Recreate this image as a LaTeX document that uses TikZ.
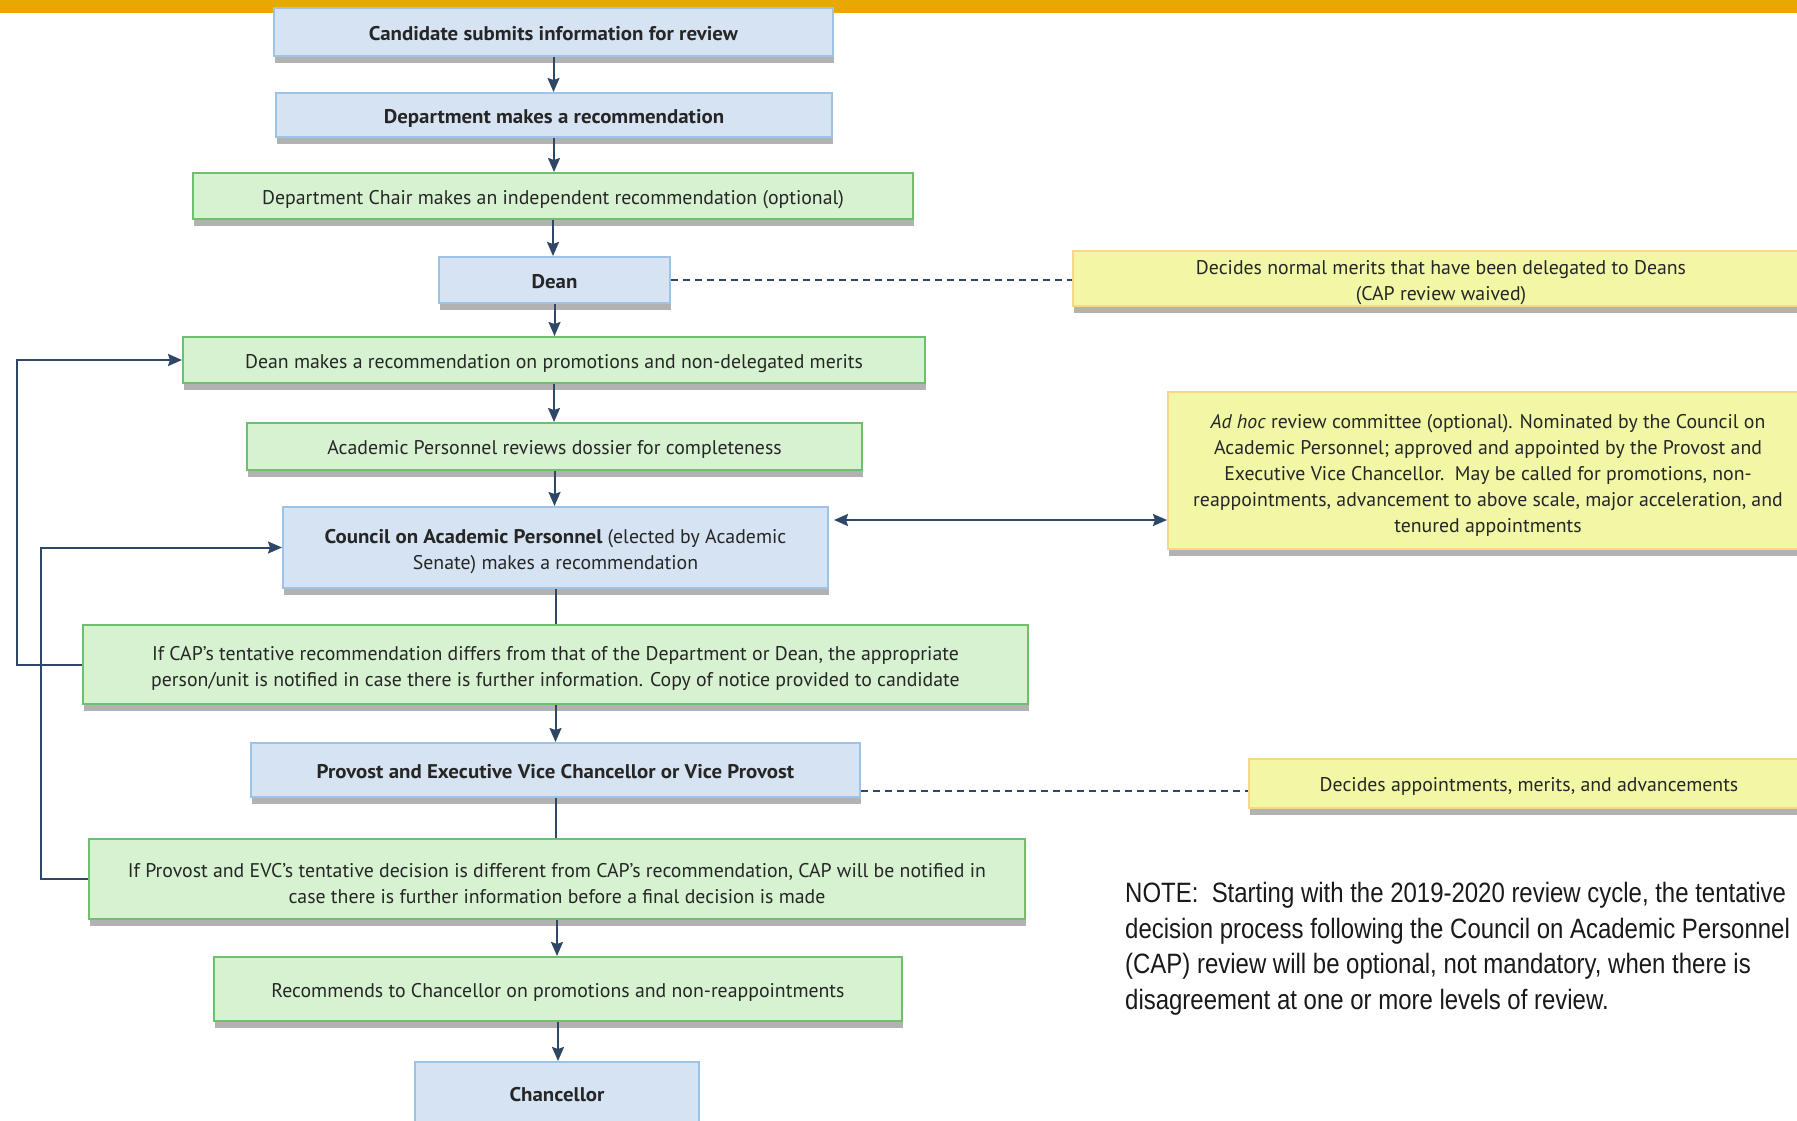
\documentclass[tikz,border=0pt]{standalone}
\usepackage{fontspec}
\setmainfont{PT Sans}[BoldFeatures={FakeStretch=1.055}]
\newfontfamily\notefont{Liberation Sans}[FakeStretch=0.856]
\usetikzlibrary{arrows.meta,shadows,calc}
\definecolor{bar}{HTML}{E8A800}
\definecolor{bfill}{HTML}{D5E3F2}
\definecolor{bdraw}{HTML}{9DC3E6}
\definecolor{gfill}{HTML}{D6F2D0}
\definecolor{gdraw}{HTML}{70BF6E}
\definecolor{yfill}{HTML}{F2F7A6}
\definecolor{ydraw}{HTML}{F8D888}
\definecolor{navy}{HTML}{2E4766}
\definecolor{txt}{HTML}{262626}
\newcommand\topfix{\rule{0pt}{23pt}}
\tikzset{
  box/.style={rectangle, inner sep=0pt, line width=2pt, align=center, text=txt,
    font=\fontsize{19.8}{26}\selectfont,
    drop shadow={shadow xshift=1pt, shadow yshift=-7pt, fill=black!60, opacity=0.5}},
  oneline/.style={text height=18.6pt, text depth=2pt},
  bluebox/.style={box, fill=bfill, draw=bdraw},
  greenbox/.style={box, fill=gfill, draw=gdraw},
  yellowbox/.style={box, fill=yfill, draw=ydraw},
  conn/.style={draw=navy, line width=2pt},
  arr/.style={conn, -{Stealth[length=14pt,width=12pt,inset=2pt]}},
  dbl/.style={conn, {Stealth[length=14pt,width=12pt,inset=2pt]}-{Stealth[length=14pt,width=12pt,inset=2pt]}},
  dashline/.style={draw=navy, line width=2pt, dash pattern=on 7pt off 5pt},
}
\begin{document}
\begin{tikzpicture}[x=1pt,y=-1pt]
\useasboundingbox (0,0) rectangle (1797,1121);
\clip (0,0) rectangle (1797,1121);
\fill[bar] (0,0) rectangle (1797,13);

\node[bluebox, oneline, minimum width=559, minimum height=48] (n1) at (553.5,32) {\textbf{Candidate submits information for review}};
\node[bluebox, oneline, minimum width=556, minimum height=44] (n2) at (554,115) {\textbf{Department makes a recommendation}};
\node[greenbox, oneline, minimum width=720, minimum height=46] (n3) at (553,196) {Department Chair makes an independent recommendation (optional)};
\node[bluebox, oneline, minimum width=231, minimum height=46] (n4) at (554.5,280) {\textbf{Dean}};
\node[greenbox, oneline, minimum width=742, minimum height=46] (n5) at (554,360) {Dean makes a recommendation on promotions and non-delegated merits};
\node[greenbox, oneline, minimum width=615, minimum height=47] (n6) at (554.5,446.5) {Academic Personnel reviews dossier for completeness};
\node[bluebox, minimum width=545, minimum height=81] (n7) at (555.5,547.5) {\topfix\textbf{Council on Academic Personnel} (elected by Academic\\Senate) makes a recommendation};
\node[greenbox, minimum width=945, minimum height=79] (n8) at (555.5,664.5) {\topfix If CAP’s tentative recommendation differs from that of the Department or Dean, the appropriate\\person/unit is notified in case there is further information. Copy of notice provided to candidate};
\node[bluebox, oneline, minimum width=609, minimum height=54] (n9) at (555.5,770) {\textbf{Provost and Executive Vice Chancellor or Vice Provost}};
\node[greenbox, minimum width=936, minimum height=80] (n10) at (557,879) {\topfix If Provost and EVC’s tentative decision is different from CAP’s recommendation, CAP will be notified in\\case there is further information before a final decision is made};
\node[greenbox, oneline, minimum width=688, minimum height=64] (n11) at (558,989) {Recommends to Chancellor on promotions and non-reappointments};
\node[bluebox, oneline, minimum width=284, minimum height=62] (n12) at (557,1093) {\textbf{Chancellor}};

\node[yellowbox, minimum width=736, minimum height=55] (y1) at (1441,278.5) {\topfix Decides normal merits that have been delegated to Deans\\(CAP review waived)};
\node[yellowbox, minimum width=640, minimum height=157] (y2) at (1488,470.5) {\topfix\textit{Ad hoc} review committee (optional). Nominated by the Council on\\Academic Personnel; approved and appointed by the Provost and\\Executive Vice Chancellor.\ \ May be called for promotions, non-\\reappointments, advancement to above scale, major acceleration, and\\tenured appointments};
\node[yellowbox, oneline, minimum width=560, minimum height=49] (y3) at (1529,783.5) {Decides appointments, merits, and advancements};

\node[anchor=north west, align=left, inner sep=0pt, text=black!90, font=\notefont\fontsize{28}{35.7}\selectfont] (note) at (1125,882) {NOTE:\ \ Starting with the 2019-2020 review cycle, the tentative\\decision process following the Council on Academic Personnel\\(CAP) review will be optional, not mandatory, when there is\\disagreement at one or more levels of review.};

% vertical connectors
\draw[arr] (n1.south) -- (n1.south |- n2.north);
\draw[arr] (n2.south) -- (n2.south |- n3.north);
\draw[arr] (n3.south) -- (n3.south |- n4.north);
\draw[arr] (n4.south) -- (n4.south |- n5.north);
\draw[arr] (n5.south) -- (n5.south |- n6.north);
\draw[arr] (n6.south) -- (n6.south |- n7.north);
\draw[conn] (n7.south) -- (n7.south |- n8.north);
\draw[arr] (n8.south) -- (n8.south |- n9.north);
\draw[conn] (n9.south) -- (n9.south |- n10.north);
\draw[arr] (n10.south) -- (n10.south |- n11.north);
\draw[arr] (n11.south) -- (n11.south |- n12.north);

% feedback loops
\coordinate (lx1) at (17,0);
\coordinate (lx2) at (41,0);
\draw[arr] (n8.west) -- (n8.west -| lx1) |- (n5.west);
\draw[arr] (n10.west) -- (n10.west -| lx2) |- (n7.west);

% side links
\coordinate (ah) at (0,520);
\coordinate (pv) at (0,791);
\draw[dashline] (n4.east) -- (y1.west |- n4.east);
\draw[dbl] ([xshift=5pt]n7.east |- ah) -- (y2.west |- ah);
\draw[dashline] (n9.east |- pv) -- (y3.west |- pv);
\end{tikzpicture}
\end{document}
